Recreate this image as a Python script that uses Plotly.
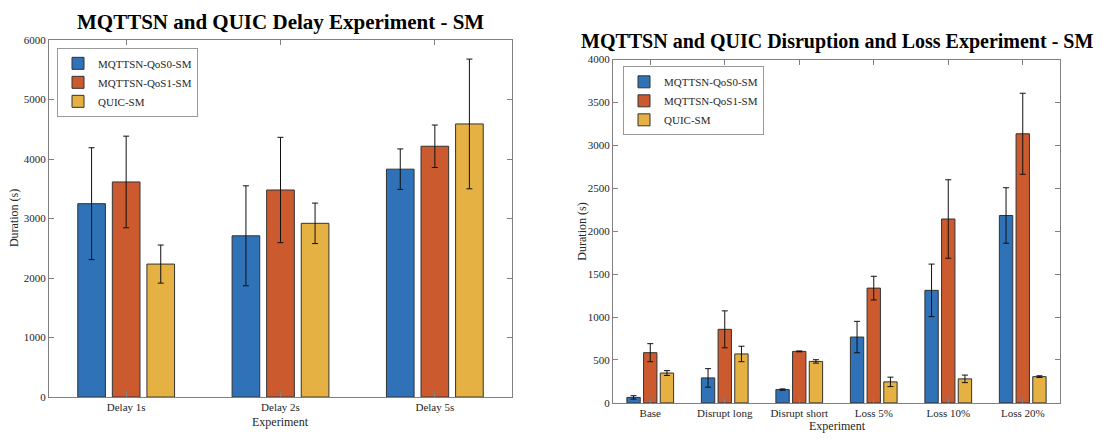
import plotly.graph_objects as go

series = ["MQTTSN-QoS0-SM", "MQTTSN-QoS1-SM", "QUIC-SM"]
colors = ["#2F72B8", "#CB5A2F", "#E5B143"]

delay_cats = ["Delay 1s", "Delay 2s", "Delay 5s"]
delay_qos0 = [3250, 2710, 3830]
delay_qos0_err = [940, 840, 340]
delay_qos1 = [3615, 3480, 4215]
delay_qos1_err = [770, 885, 357]
delay_quic = [2235, 2920, 4590]
delay_quic_err = [320, 340, 1090]

loss_cats = ["Base", "Disrupt long", "Disrupt short", "Loss 5%", "Loss 10%", "Loss 20%"]
loss_qos0 = [64, 291, 155, 767, 1311, 2183]
loss_qos0_err = [20, 108, 8, 183, 306, 323]
loss_qos1 = [585, 857, 600, 1337, 2142, 3135]
loss_qos1_err = [105, 215, 5, 138, 457, 472]
loss_quic = [348, 570, 483, 245, 280, 306]
loss_quic_err = [28, 90, 20, 55, 44, 10]

W, H = 1108, 441
FONT = "Liberation Serif"
TXT = "#262626"
AX = "#808080"

fig = go.Figure()

delay_vals = [delay_qos0, delay_qos1, delay_quic]
delay_errs = [delay_qos0_err, delay_qos1_err, delay_quic_err]
loss_vals = [loss_qos0, loss_qos1, loss_quic]
loss_errs = [loss_qos0_err, loss_qos1_err, loss_quic_err]

for i in range(3):
    fig.add_trace(go.Bar(
        x=delay_cats, y=delay_vals[i], name=series[i],
        marker=dict(color=colors[i], line=dict(color="#333333", width=1)),
        error_y=dict(type="data", array=delay_errs[i], color="#111111", thickness=1, width=3),
        xaxis="x", yaxis="y", legend="legend", offsetgroup=str(i),
    ))
for i in range(3):
    fig.add_trace(go.Bar(
        x=loss_cats, y=loss_vals[i], name=series[i],
        marker=dict(color=colors[i], line=dict(color="#333333", width=1)),
        error_y=dict(type="data", array=loss_errs[i], color="#111111", thickness=1, width=3),
        xaxis="x2", yaxis="y2", legend="legend2", offsetgroup=str(i),
    ))

axis_common = dict(
    showline=True, linecolor=AX, linewidth=1, mirror="ticks",
    ticks="inside", ticklen=5, tickcolor=AX, showgrid=False, zeroline=False,
    tickfont=dict(family=FONT, size=11, color=TXT),
)

fig.update_layout(
    width=W, height=H,
    margin=dict(l=0, r=0, t=0, b=0),
    paper_bgcolor="white", plot_bgcolor="white",
    barmode="group", bargap=0.328, bargroupgap=0.2,
    font=dict(family=FONT, size=11, color=TXT),
    xaxis=dict(domain=[49 / W, 512 / W], anchor="y", type="category", **axis_common),
    yaxis=dict(domain=[(H - 402) / H, (H - 35) / H], anchor="x", range=[0, 6000],
               tickvals=[0, 1000, 2000, 3000, 4000, 5000, 6000], **axis_common),
    xaxis2=dict(domain=[613 / W, 1060 / W], anchor="y2", type="category", **axis_common),
    yaxis2=dict(domain=[(H - 408) / H, (H - 55) / H], anchor="x2", range=[0, 4000],
                tickvals=[0, 500, 1000, 1500, 2000, 2500, 3000, 3500, 4000], **axis_common),
    legend=dict(x=57 / W, y=1 - 43 / H, xanchor="left", yanchor="top",
                bgcolor="white", bordercolor="#999999", borderwidth=1,
                font=dict(family=FONT, size=11, color=TXT), tracegroupgap=0, itemwidth=30),
    legend2=dict(x=623 / W, y=1 - 62 / H, xanchor="left", yanchor="top",
                 bgcolor="white", bordercolor="#999999", borderwidth=1,
                 font=dict(family=FONT, size=11, color=TXT), tracegroupgap=0, itemwidth=30),
    showlegend=True,
)

ann = [
    dict(text="<b>MQTTSN and QUIC Delay Experiment - SM</b>", x=280 / W, y=1 - 16 / H,
         font=dict(size=21, color="black")),
    dict(text="<b>MQTTSN and QUIC Disruption and Loss Experiment - SM</b>", x=837 / W, y=1 - 37 / H,
         font=dict(size=20, color="black")),
    dict(text="Experiment", x=280 / W, y=1 - 428 / H, font=dict(size=12, color=TXT)),
    dict(text="Experiment", x=837 / W, y=1 - 432 / H, font=dict(size=12, color=TXT)),
    dict(text="Duration (s)", x=14 / W, y=1 - 218 / H, textangle=-90, font=dict(size=12, color=TXT)),
    dict(text="Duration (s)", x=582 / W, y=1 - 232 / H, textangle=-90, font=dict(size=12, color=TXT)),
]
for a in ann:
    a.update(xref="paper", yref="paper", showarrow=False, xanchor="center", yanchor="middle")
    a["font"]["family"] = FONT
fig.update_layout(annotations=ann)

fig.write_html("out.html")
